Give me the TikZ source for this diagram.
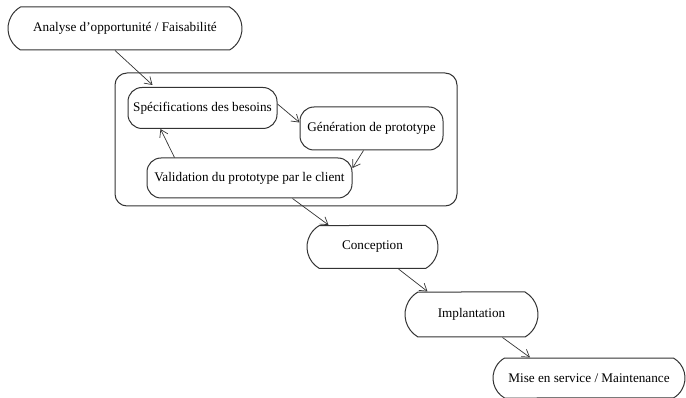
\documentclass[tikz,border=0pt]{standalone}
\usepackage{fontspec}
\setmainfont{Liberation Serif}
\usetikzlibrary{shapes.misc,arrows.meta}
\definecolor{ink}{HTML}{333333}
\tikzset{
  phase/.style={draw=ink, line width=1pt, rounded rectangle, rounded rectangle arc length=120,
    minimum height=43pt, inner sep=0pt, font=\fontsize{13.2}{15}\selectfont},
  step box/.style={draw=ink, line width=1pt, rounded corners=14pt, inner sep=0pt,
    minimum height=41pt, font=\fontsize{13.2}{15}\selectfont},
  group box/.style={draw=ink, line width=1pt, rounded corners=12pt, inner sep=0pt},
  flow/.style={draw=ink, line width=0.7pt, -{Straight Barb[length=7pt,width=9pt]}}
}
\begin{document}
\begin{tikzpicture}[x=1pt,y=-1pt]
\useasboundingbox (0,0) rectangle (686,398);
% prototyping loop container
\node[group box, minimum width=342pt, minimum height=133pt] (grp) at (286,139.5) {};
% phases
\node[phase, minimum width=234pt] (ana) at (125,28.5) {Analyse d'opportunité / Faisabilité};
\node[step box, minimum width=149pt] (spec) at (202.5,108) {Spécifications des besoins};
\node[step box, minimum width=143pt, minimum height=43pt] (gen) at (371.5,128.5) {Génération de prototype};
\node[step box, minimum width=205pt, minimum height=40pt] (val) at (249.5,178) {Validation du prototype par le client};
\node[phase, minimum width=131pt] (conc) at (372.5,247) {Conception};
\node[phase, minimum width=133pt, minimum height=45pt] (impl) at (471.5,314.5) {Implantation};
\node[phase, minimum width=192pt, minimum height=40pt] (mise) at (589,378) {Mise en service / Maintenance};
% connectors
\draw[flow] ([xshift=-10pt]ana.south) -- ([xshift=-50pt,yshift=2pt]spec.north);
\draw[flow] ([yshift=4pt]spec.east) -- ([yshift=6pt]gen.west);
\draw[flow] ([xshift=-8pt]gen.south) -- ([yshift=10pt]val.east);
\draw[flow] ([xshift=-75pt]val.north) -- ([xshift=-42pt]spec.south);
\draw[flow] ([xshift=43pt]val.south) -- ([xshift=-44pt]conc.north);
\draw[flow] ([xshift=26pt]conc.south) -- ([xshift=-44pt]impl.north);
\draw[flow] ([xshift=31pt]impl.south) -- ([xshift=-59pt]mise.north);
\end{tikzpicture}
\end{document}
